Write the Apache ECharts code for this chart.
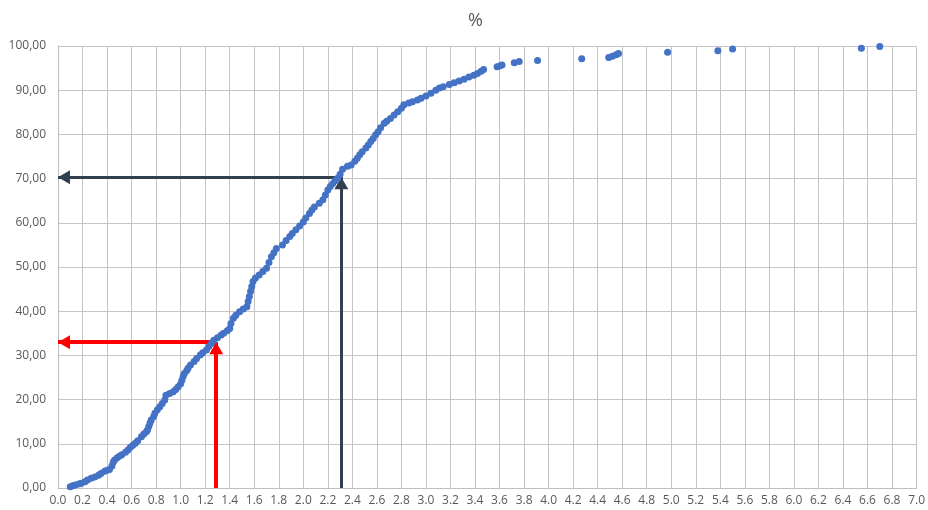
<!DOCTYPE html>
<html>
<head>
<meta charset="utf-8">
<script src="https://cdn.jsdelivr.net/npm/echarts@6/dist/echarts.min.js"></script>
<style>
  html, body { margin: 0; padding: 0; background: #fff; }
  #root { width: 928px; height: 510px; }
</style>
</head>
<body>
<div id="root"></div>
<script>
// x values
let xValues = [
  0.10, 0.12, 0.14, 0.17, 0.19, 0.22, 0.24, 0.27, 0.30, 0.33,
  0.35, 0.38, 0.40, 0.42, 0.44, 0.45, 0.46, 0.48, 0.50, 0.52,
  0.55, 0.57, 0.59, 0.61, 0.63, 0.65, 0.68, 0.70, 0.72, 0.73,
  0.74, 0.75, 0.76, 0.78, 0.79, 0.81, 0.83, 0.85, 0.87, 0.88,
  0.91, 0.94, 0.96, 0.98, 1.00, 1.01, 1.02, 1.03, 1.05, 1.06,
  1.08, 1.11, 1.13, 1.16, 1.18, 1.21, 1.23, 1.25, 1.27, 1.30,
  1.33, 1.35, 1.38, 1.40, 1.41, 1.43, 1.45, 1.48, 1.51, 1.54,
  1.55, 1.56, 1.57, 1.58, 1.59, 1.61, 1.64, 1.67, 1.70, 1.72,
  1.74, 1.76, 1.78, 1.83, 1.86, 1.89, 1.91, 1.94, 1.97, 2.00,
  2.02, 2.05, 2.07, 2.09, 2.13, 2.16, 2.18, 2.20, 2.22, 2.24,
  2.26, 2.28, 2.30, 2.32, 2.36, 2.39, 2.42, 2.44, 2.46, 2.48,
  2.51, 2.53, 2.55, 2.57, 2.59, 2.61, 2.63, 2.66, 2.68, 2.71,
  2.74, 2.77, 2.80, 2.82, 2.86, 2.89, 2.93, 2.96, 3.00, 3.04,
  3.08, 3.11, 3.14, 3.19, 3.23, 3.27, 3.31, 3.35, 3.39, 3.42,
  3.45, 3.47, 3.58, 3.60, 3.62, 3.72, 3.76, 3.91, 4.27, 4.49,
  4.52, 4.55, 4.57, 4.97, 5.38, 5.50, 6.55, 6.70
];
// cumulative % values
let yValues = [
  0.3, 0.5, 0.7, 0.9, 1.1, 1.4, 1.8, 2.2, 2.5, 2.9,
  3.3, 3.8, 4.0, 4.2, 5.0, 5.8, 6.3, 6.8, 7.2, 7.5,
  8.1, 8.6, 9.2, 9.7, 10.1, 10.7, 11.6, 12.2, 12.7, 13.1,
  13.9, 14.7, 15.4, 16.2, 16.9, 17.7, 18.4, 19.1, 19.9, 21.0,
  21.4, 21.8, 22.3, 22.9, 23.6, 24.4, 25.2, 25.9, 26.6, 27.1,
  27.8, 28.6, 29.3, 30.1, 30.6, 31.2, 32.0, 32.7, 33.4, 34.0,
  34.6, 35.0, 35.6, 36.1, 37.2, 38.4, 39.1, 39.9, 40.5, 41.0,
  42.2, 43.3, 44.5, 45.6, 46.7, 47.5, 48.2, 49.0, 49.7, 51.0,
  52.3, 53.2, 54.2, 55.0, 56.0, 56.9, 57.6, 58.4, 59.3, 60.2,
  61.1, 62.1, 62.9, 63.6, 64.4, 65.2, 66.3, 67.4, 68.2, 68.9,
  69.5, 70.1, 71.0, 72.1, 72.8, 73.1, 73.9, 74.6, 75.4, 76.1,
  76.9, 77.6, 78.4, 79.1, 79.9, 80.6, 81.5, 82.5, 83.0, 83.6,
  84.4, 85.1, 85.9, 86.7, 87.1, 87.4, 87.8, 88.2, 88.7, 89.3,
  90.0, 90.5, 90.8, 91.3, 91.7, 92.1, 92.5, 93.0, 93.4, 93.8,
  94.3, 94.7, 95.3, 95.5, 95.7, 96.2, 96.5, 96.7, 97.1, 97.4,
  97.7, 98.0, 98.3, 98.6, 98.9, 99.3, 99.5, 99.9
];
// reading arrows: [x, y]
let redArrow = [1.29, 33];
let darkArrow = [2.31, 70.3];

let points = xValues.map((x, i) => [x, yValues[i]]);

function arrowLines(p, color, width) {
  return {
    silent: true,
    symbol: ['none', 'triangle'],
    symbolSize: [14, 12],
    symbolOffset: [[0, 0], [0, 6]],
    label: { show: false },
    lineStyle: { color: color, width: width, type: 'solid', opacity: 1 },
    itemStyle: { color: color },
    data: [
      [{ coord: [p[0], 0] }, { coord: [p[0], p[1]] }],
      [{ coord: [p[0], p[1]] }, { coord: [0, p[1]] }]
    ]
  };
}

let root = document.getElementById('root');
let myCharts = echarts.init(root);
let option = {
  animation: false,
  title: {
    text: '%',
    left: 463,
    top: 7,
    textStyle: { color: '#595959', fontSize: 18, fontWeight: 'normal', fontFamily: 'Open Sans' }
  },
  grid: { left: 58, right: 9, top: 46, bottom: 22, containLabel: false },
  xAxis: {
    type: 'value',
    min: 0,
    max: 7,
    interval: 0.2,
    axisLine: { show: true, lineStyle: { color: '#bfbfbf' } },
    axisTick: { show: false },
    splitLine: { show: true, lineStyle: { color: '#c4c4c4', width: 1 } },
    axisLabel: {
      color: '#595959',
      fontSize: 12,
      fontFamily: 'Open Sans',
      margin: 7,
      interval: 0,
      showMaxLabel: true,
      formatter: v => v.toFixed(1)
    }
  },
  yAxis: {
    type: 'value',
    min: 0,
    max: 100,
    interval: 10,
    axisLine: { show: true, lineStyle: { color: '#bfbfbf' } },
    axisTick: { show: false },
    splitLine: { show: true, lineStyle: { color: '#c4c4c4', width: 1 } },
    axisLabel: {
      color: '#595959',
      fontSize: 12,
      fontFamily: 'Open Sans',
      margin: 12,
      formatter: v => v.toFixed(2).replace('.', ',')
    }
  },
  series: [
    {
      name: 'red',
      type: 'scatter',
      data: [],
      z: 1,
      markLine: arrowLines(redArrow, '#ff0000', 4)
    },
    {
      name: 'dark',
      type: 'scatter',
      data: [],
      z: 1,
      markLine: arrowLines(darkArrow, '#323f4f', 3)
    },
    {
      name: '%',
      type: 'scatter',
      data: points,
      symbolSize: 7,
      z: 5,
      itemStyle: { color: '#4472c4', opacity: 1 }
    }
  ]
};
myCharts.setOption(option);
</script>
</body>
</html>
